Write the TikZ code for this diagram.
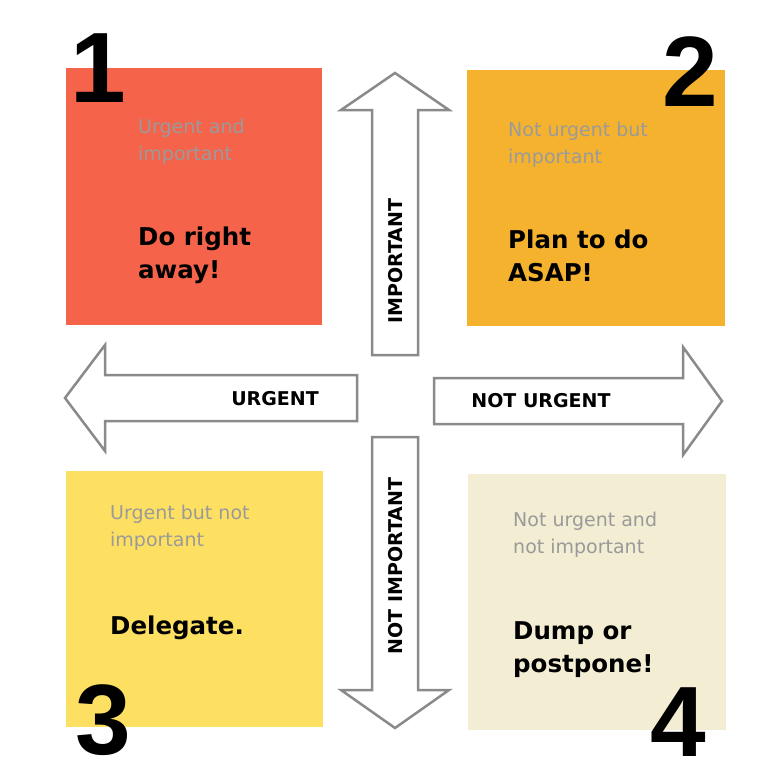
\documentclass[tikz,border=0pt]{standalone}
\usepackage{fontspec}
\setmainfont{DejaVu Sans}
\newfontfamily\numfont{Liberation Sans}
\usetikzlibrary{positioning}
\definecolor{redq}{HTML}{F4634A}
\definecolor{orangeq}{HTML}{F5B22F}
\definecolor{yellowq}{HTML}{FDE061}
\definecolor{creamq}{HTML}{F2EDD3}
\definecolor{grayq}{HTML}{9A9A9A}
\definecolor{edgeq}{HTML}{8A8A8A}

\begin{document}
\begin{tikzpicture}[x=1pt,y=-1pt,
  small/.style={anchor=north west,inner sep=0pt,align=left,text=grayq,
    font=\fontsize{19}{27}\selectfont},
  big/.style={anchor=north west,inner sep=0pt,align=left,
    font=\bfseries\fontsize{24.5}{33}\selectfont},
  num/.style={inner sep=0pt,font=\numfont\bfseries\fontsize{100}{100}\selectfont},
  arrowq/.style={draw=edgeq,fill=white,line width=2.5pt,line join=miter},
  lab/.style={font=\bfseries\fontsize{19}{19}\selectfont,inner sep=0pt}
  ]
  \useasboundingbox (0,0) rectangle (784,784);
  \fill[white] (0,0) rectangle (784,784);

  % quadrants
  \fill[redq] (66,68) rectangle (322,325);
  \fill[orangeq] (467,70) rectangle (725,326);
  \fill[yellowq] (66,471) rectangle (323,727);
  \fill[creamq] (468,474) rectangle (726,730);

  % arrows
  \draw[arrowq] (372,355) -- (372,110) -- (341,110) -- (395,73)
    -- (449,110) -- (418,110) -- (418,355) -- cycle;
  \draw[arrowq] (372,437) -- (372,690) -- (341,690) -- (395,728)
    -- (449,690) -- (418,690) -- (418,437) -- cycle;
  \draw[arrowq] (357,375) -- (105,375) -- (105,345) -- (65,398)
    -- (105,451) -- (105,421) -- (357,421) -- cycle;
  \draw[arrowq] (434,378) -- (683,378) -- (683,347) -- (722,401)
    -- (683,455) -- (683,424) -- (434,424) -- cycle;

  \node[lab,rotate=90] (important) at (396,261) {IMPORTANT};
  \node[lab,rotate=90] (notimportant) at (396,566) {NOT IMPORTANT};
  \node[lab] (urgent) at (275,399) {URGENT};
  \node[lab] (noturgent) at (541,401) {NOT URGENT};

  % texts
  \node[small] (t1) at (138,119) {Urgent and\\important};
  \node[big] (d1) at (138,227) {Do right\\away!};
  \node[small] (t2) at (508,122) {Not urgent but\\important};
  \node[big] (d2) at (508,230) {Plan to do\\ASAP!};
  \node[small] (t3) at (110,505) {Urgent but not\\important};
  \node[big] (d3) at (110,616) {Delegate.};
  \node[small] (t4) at (513,512) {Not urgent and\\not important};
  \node[big] (d4) at (513,621) {Dump or\\postpone!};

  % numbers
  \node[num] (n1) at (98,68) {1};
  \node[num] (n2) at (690,72) {2};
  \node[num] (n3) at (103,720) {3};
  \node[num] (n4) at (678,722) {4};
\end{tikzpicture}
\end{document}
